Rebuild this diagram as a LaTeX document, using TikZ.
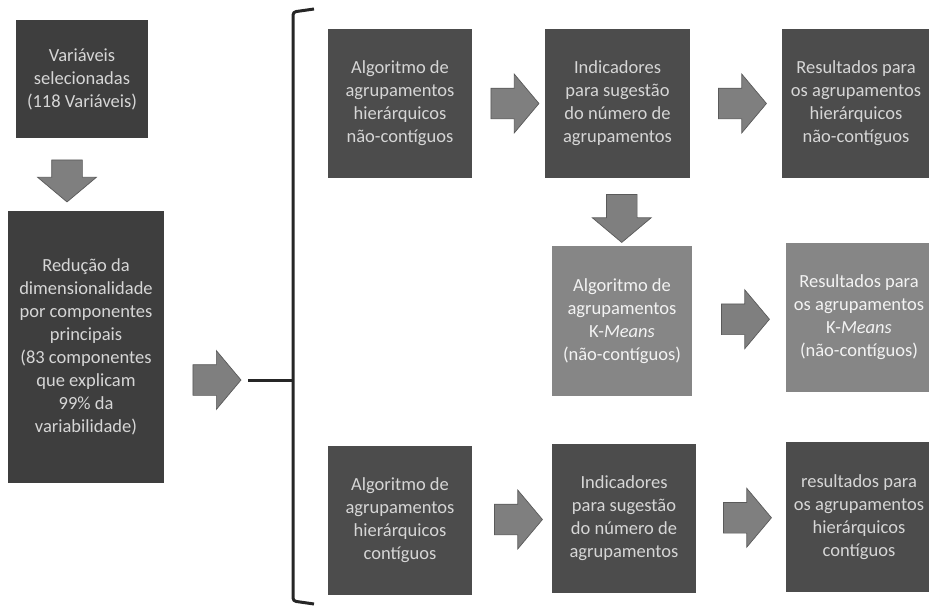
\documentclass[tikz,border=0pt]{standalone}
\usepackage{fontspec}
\setmainfont{Carlito}
\usepackage{tikz}
\usetikzlibrary{positioning, calc, shapes.arrows}
\definecolor{boxdark}{HTML}{3E3E3E}
\definecolor{boxmid}{HTML}{4C4C4C}
\definecolor{boxlight}{HTML}{868686}
\definecolor{arrowfill}{HTML}{7F7F7F}
\definecolor{arrowline}{HTML}{5A5A5A}
\definecolor{boxtext}{HTML}{D6D6D6}
\definecolor{bracecol}{HTML}{262626}
\tikzset{
	procbox/.style={
		align = center,
		text=boxtext,
		inner sep=0pt,
		outer sep=0pt,
		font={\fontsize{18.5}{23}\selectfont}
	},
	darkbox/.style={
		procbox,
		fill=boxmid,
		minimum width=145pt,
		minimum height=149pt
	},
	lightbox/.style={
		procbox,
		fill=boxlight,
		text=white!90!boxlight,
		minimum width=140pt,
		minimum height=150pt
	},
	blockarr/.style={
		single arrow,
		draw=arrowline,
		fill=arrowfill,
		line width=0.7pt,
		inner xsep=0pt,
		inner ysep=15pt,
		outer sep=0pt,
		minimum width=58pt,
		minimum height=48pt,
		single arrow head extend=14pt,
		single arrow tip angle=100
	}
}

\begin{document}
\begin{tikzpicture}[x=1pt, y=-1pt]
\useasboundingbox (0,0) rectangle (929,606);

\node(vars)[procbox, fill=boxdark, minimum width=132pt, minimum height=118pt] at (82,79)
	{Variáveis\\selecionadas\\(118 Variáveis)};
\node(reduc)[procbox, fill=boxdark, minimum width=156pt, minimum height=272pt] at (86,347)
	{Redução da\\dimensionalidade\\por componentes\\principais\\(83 componentes\\que explicam\\99\% da\\variabilidade)};
\node(arr1)[blockarr, minimum height=42pt, rotate=-90] at ($(vars.south)!0.5!(reduc.north)+(-17,0)$) {};

% chave
\coordinate(bracetip) at (248,380);
\draw[bracecol, line width=3pt, rounded corners=3pt] (314,9) -- (293,12) -- (293,601) -- (314,604);
\draw[bracecol, line width=3pt] (293,380) -- (bracetip);
\node(arr2)[blockarr, anchor=east, left = 7pt of bracetip] {};

% nao-contiguos
\node(hiernc)[darkbox, minimum width=144pt] at (400,103.5)
	{Algoritmo de\\agrupamentos\\hierárquicos\\não-contíguos};
\node(indnc)[darkbox, right = 73pt of hiernc]
	{Indicadores\\para sugestão\\do número de\\agrupamentos};
\node(resnc)[darkbox, minimum width=148pt, right = 92pt of indnc]
	{Resultados para\\os agrupamentos\\hierárquicos\\não-contíguos};
\node(arr3)[blockarr] at ($(hiernc.east)!0.5!(indnc.west)$) {};
\node(arr4)[blockarr] at ($(indnc.east)!0.5!(resnc.west)$) {};

% k-means
\node(kmeans)[lightbox] at (622,321)
	{Algoritmo de\\agrupamentos\\K-\textit{Means}\\(não-contíguos)};
\node(reskm)[lightbox, minimum width=146pt, minimum height=149pt] at (859,317.5)
	{Resultados para\\os agrupamentos\\K-\textit{Means}\\(não-contíguos)};
\node(arr5)[blockarr, rotate=-90] at ($(indnc.south)!0.5!(kmeans.north)+(2,0)$) {};
\node(arr6)[blockarr] at ($(kmeans.east)!0.5!(reskm.west)$) {};

% contiguos
\node(hierc)[darkbox, minimum width=144pt] at (400,520.5)
	{Algoritmo de\\agrupamentos\\hierárquicos\\contíguos};
\node(indc)[darkbox, minimum width=144pt] at (624,518.5)
	{Indicadores\\para sugestão\\do número de\\agrupamentos};
\node(resc)[darkbox, minimum width=146pt, minimum height=150pt] at (859,517)
	{resultados para\\os agrupamentos\\hierárquicos\\contíguos};
\node(arr7)[blockarr] at ($(hierc.east)!0.5!(indc.west)$) {};
\node(arr8)[blockarr] at ($(indc.east)!0.5!(resc.west)$) {};

\end{tikzpicture}
\end{document}
